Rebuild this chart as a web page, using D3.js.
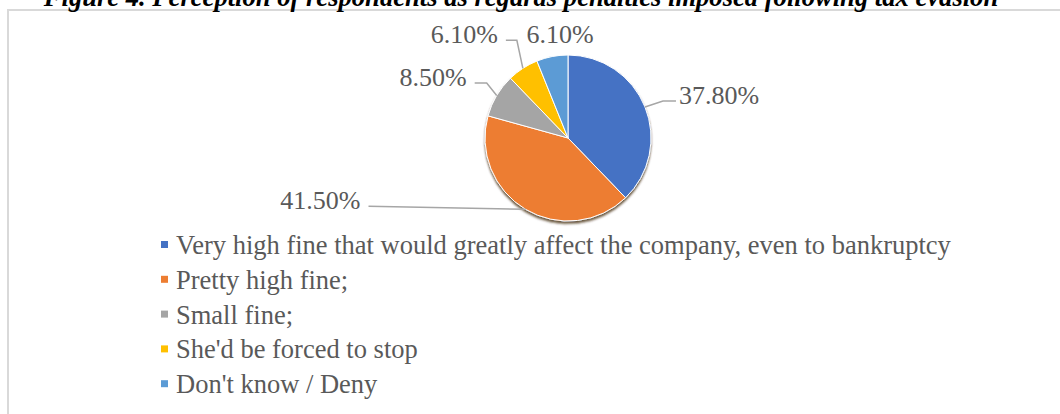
<!DOCTYPE html>
<html>
<head>
<meta charset="utf-8">
<script src="https://cdn.jsdelivr.net/npm/d3@7"></script>
<style>
  html, body { margin: 0; padding: 0; background: #fff; overflow: hidden; }
  svg { display: block; }
</style>
</head>
<body>
<svg id="chart" width="1060" height="414"></svg>
<script>
// ---- data ----
const categories = [
  "Very high fine that would greatly affect the company, even to bankruptcy",
  "Pretty high fine;",
  "Small fine;",
  "She'd be forced to stop",
  "Don't know / Deny"
];
const values = [37.8, 41.5, 8.5, 6.1, 6.1];
const valueLabels = ["37.80%", "41.50%", "8.50%", "6.10%", "6.10%"];
const colors = ["#4472C4", "#ED7D31", "#A5A5A5", "#FFC000", "#5B9BD5"];
const titleText = "Figure 4. Perception of respondents as regards penalties imposed following tax evasion";

// ---- layout ----
const W = 1060, H = 414;
const cx = 568, cy = 138, R = 83;
// label offsets relative to the slice's outer mid-point
const labelLayout = [
  { dx: 34, dy: -3, anchor: "start", elbow: [18, -6] },
  { dx: -165, dy: 0, anchor: "end", elbow: null },
  { dx: -30, dy: -9.5, anchor: "end", elbow: [-10, -11.5] },
  { dx: -25, dy: -25, anchor: "end", elbow: [-6, -26.3] },
  { dx: 8, dy: -13.5, anchor: "middle", elbow: null, noLine: true }
];

const svg = d3.select("#chart");
const serif = "'Times New Roman', 'Liberation Serif', 'DejaVu Serif', serif";

// border
svg.append("rect")
  .attr("x", 8).attr("y", 10)
  .attr("width", 1200).attr("height", 600)
  .attr("fill", "none").attr("stroke", "#d9d9d9").attr("stroke-width", 2);

// title (clipped at top, as in the reference)
svg.append("text")
  .attr("x", 521).attr("y", 6)
  .attr("text-anchor", "middle")
  .attr("font-family", serif)
  .attr("font-size", 26.6)
  .attr("font-weight", "bold")
  .attr("font-style", "italic")
  .attr("fill", "#000")
  .text(titleText);

// shadow filter
const defs = svg.append("defs");
const f = defs.append("filter").attr("id", "shadow")
  .attr("x", "-20%").attr("y", "-20%").attr("width", "140%").attr("height", "140%");
f.append("feDropShadow")
  .attr("dx", 0).attr("dy", 2.5).attr("stdDeviation", 1.2)
  .attr("flood-color", "#3a2000").attr("flood-opacity", 0.75);

const pie = d3.pie().sort(null).value(d => d)(values);
const arc = d3.arc().innerRadius(0).outerRadius(R);

const g = svg.append("g").attr("transform", `translate(${cx},${cy})`);
g.append("g").attr("filter", "url(#shadow)")
  .selectAll("path")
  .data(pie)
  .join("path")
  .attr("d", arc)
  .attr("fill", (d, i) => colors[i])
  .attr("stroke", "#fff")
  .attr("stroke-width", 1);

// labels + leader lines
const labelFont = 26;
pie.forEach((d, i) => {
  const a = (d.startAngle + d.endAngle) / 2;
  const px = Math.sin(a) * R, py = -Math.cos(a) * R;
  const L = labelLayout[i];
  const tx = px + L.dx, ty = py + L.dy;
  g.append("text")
    .attr("x", tx).attr("y", ty)
    .attr("text-anchor", L.anchor)
    .attr("font-family", serif)
    .attr("font-size", labelFont)
    .attr("fill", "#595959")
    .text(valueLabels[i]);
  if (L.noLine) return;
  const lineY = ty - 3;
  const endX = L.anchor === "start" ? tx - 3 : tx + 8;
  const pts = [[px, py]];
  if (L.elbow) pts.push([px + L.elbow[0], lineY]);
  pts.push([endX, lineY]);
  g.append("path")
    .attr("d", d3.line()(pts))
    .attr("fill", "none")
    .attr("stroke", "#a6a6a6")
    .attr("stroke-width", 1.5);
});

// legend
const legX = 161, legY0 = 254, legStep = 34.8;
const leg = svg.append("g");
categories.forEach((c, i) => {
  const y = legY0 + i * legStep;
  leg.append("rect")
    .attr("x", legX).attr("y", y - 13)
    .attr("width", 7).attr("height", 7)
    .attr("fill", colors[i]);
  leg.append("text")
    .attr("x", legX + 15).attr("y", y)
    .attr("font-family", serif)
    .attr("font-size", 26.5)
    .attr("fill", "#595959")
    .text(c);
});
</script>
</body>
</html>
